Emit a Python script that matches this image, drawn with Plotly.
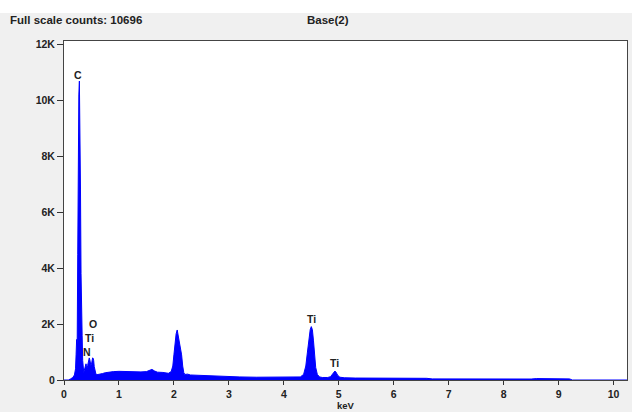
import plotly.graph_objects as go

# EDS spectrum (energy in keV, counts)
energy_kev = [
    0.00, 0.08, 0.12, 0.16, 0.19, 0.21, 0.22, 0.23, 0.24, 0.25,
    0.26, 0.27, 0.28, 0.29, 0.30, 0.31, 0.32, 0.33, 0.34, 0.35,
    0.36, 0.37, 0.38, 0.39, 0.40, 0.41, 0.42, 0.43, 0.44, 0.45,
    0.46, 0.47, 0.48, 0.49, 0.50, 0.51, 0.52, 0.53, 0.54, 0.55,
    0.56, 0.58, 0.60, 0.65, 0.70, 0.75, 0.80, 0.90, 1.00, 1.10,
    1.20, 1.30, 1.40, 1.50, 1.55, 1.60, 1.65, 1.70, 1.80, 1.90,
    1.95, 1.98, 2.00, 2.02, 2.04, 2.06, 2.08, 2.10, 2.12, 2.14,
    2.16, 2.18, 2.20, 2.25, 2.30, 2.40, 2.50, 2.60, 2.80, 3.00,
    3.20, 3.50, 3.80, 4.00, 4.20, 4.30, 4.36, 4.40, 4.43, 4.46,
    4.48, 4.50, 4.52, 4.54, 4.56, 4.58, 4.61, 4.65, 4.70, 4.80,
    4.85, 4.88, 4.91, 4.93, 4.95, 4.98, 5.02, 5.10, 5.30, 5.50,
    5.80, 6.00, 6.20, 6.40, 6.60, 6.70, 7.00, 7.50, 8.00, 8.50,
    8.60, 8.80, 9.00, 9.20, 9.25, 10.25,
]
counts = [
    0, 0, 40, 90, 180, 400, 900, 1450, 1300, 4500,
    8900, 10200, 10696, 9300, 6800, 3800, 3100, 1600, 700, 320,
    260, 350, 480, 560, 580, 520, 420, 520, 650, 760,
    790, 720, 600, 520, 560, 700, 790, 780, 700, 480,
    330, 220, 190, 200, 230, 260, 280, 300, 310, 300,
    300, 290, 290, 300, 330, 380, 320, 280, 270, 240,
    300, 500, 900, 1350, 1650, 1790, 1550, 1300, 1150, 900,
    500, 260, 200, 210, 180, 170, 160, 150, 130, 120,
    110, 100, 95, 90, 95, 110, 200, 500, 1000, 1550,
    1800, 1910, 1800, 1400, 900, 450, 200, 110, 90, 90,
    120, 200, 300, 320, 280, 170, 100, 80, 70, 70,
    60, 60, 70, 60, 60, 40, 35, 30, 30, 35,
    50, 45, 50, 40, 0, 0,
]
assert len(energy_kev) == len(counts)

x_ticks = [0, 1, 2, 3, 4, 5, 6, 7, 8, 9, 10]
y_ticks = [0, 2000, 4000, 6000, 8000, 10000, 12000]
y_tick_labels = ["0", "2K", "4K", "6K", "8K", "10K", "12K"]

peak_labels = ["C", "O", "Ti", "N", "Ti", "Ti"]
peak_x = [0.26, 0.535, 0.455, 0.42, 4.51, 4.92]
peak_y = [10930, 1990, 1510, 1015, 2190, 600]

FONT = "Liberation Sans"
DARK = "#222222"

fig = go.Figure()
fig.add_trace(go.Scatter(
    x=energy_kev, y=counts, mode="lines", fill="tozeroy",
    line=dict(color="#0000ff", width=1), fillcolor="#0000ff",
    hoverinfo="skip", showlegend=False,
))

for t, x, y in zip(peak_labels, peak_x, peak_y):
    fig.add_annotation(x=x, y=y, text=t, showarrow=False,
                       font=dict(family=FONT, size=10.5, color=DARK, weight="bold"),
                       xanchor="center", yanchor="middle")

L, R, T, B = 64, 5, 41, 32
W, H = 632, 412
pw, ph = W - L - R, H - T - B

def px(xp):
    return (xp - L) / pw

def py(yp):
    return (H - B - yp) / ph

fig.add_annotation(xref="paper", yref="paper", x=px(8), y=py(20),
                   text="Full scale counts: 10696", showarrow=False,
                   xanchor="left", yanchor="middle",
                   font=dict(family=FONT, size=11.5, color=DARK, weight="bold"))
fig.add_annotation(xref="paper", yref="paper", x=px(305), y=py(20),
                   text="Base(2)", showarrow=False,
                   xanchor="left", yanchor="middle",
                   font=dict(family=FONT, size=11.5, color=DARK, weight="bold"))
fig.add_annotation(xref="paper", yref="paper", x=0.5, y=py(412),
                   text="keV", showarrow=False,
                   xanchor="center", yanchor="bottom", borderpad=0,
                   font=dict(family=FONT, size=9.5, color=DARK, weight="bold"))

# white strip at the very top of the window
fig.add_shape(type="rect", xref="paper", yref="paper",
              x0=px(0), x1=px(W), y0=py(13), y1=py(0),
              fillcolor="white", line=dict(width=0), layer="above")

fig.update_layout(
    width=W, height=H,
    margin=dict(l=L, r=R, t=T, b=B, pad=0),
    paper_bgcolor="#f0f0f0", plot_bgcolor="white",
    font=dict(family=FONT, size=10, color=DARK, weight="bold"),
    showlegend=False,
)
fig.update_xaxes(
    range=[0, 10.245], tickvals=x_ticks, ticks="outside", ticklen=4,
    tickcolor="#333333", showgrid=False, zeroline=False,
    showline=True, mirror=True, linecolor="#444444", linewidth=1,
    tickfont=dict(family=FONT, size=10.5, color=DARK, weight="bold"),
)
fig.update_yaxes(
    range=[0, 12130], tickvals=y_ticks, ticktext=y_tick_labels,
    ticks="outside", ticklen=6, tickcolor="#333333", showgrid=False,
    zeroline=False, showline=True, mirror=True, linecolor="#444444",
    linewidth=1,
    tickfont=dict(family=FONT, size=10.5, color=DARK, weight="bold"),
)

fig.write_html(
    "out.html",
    config={"displayModeBar": False},
    post_script="document.body.style.margin='0';document.body.style.overflow='hidden';",
)
